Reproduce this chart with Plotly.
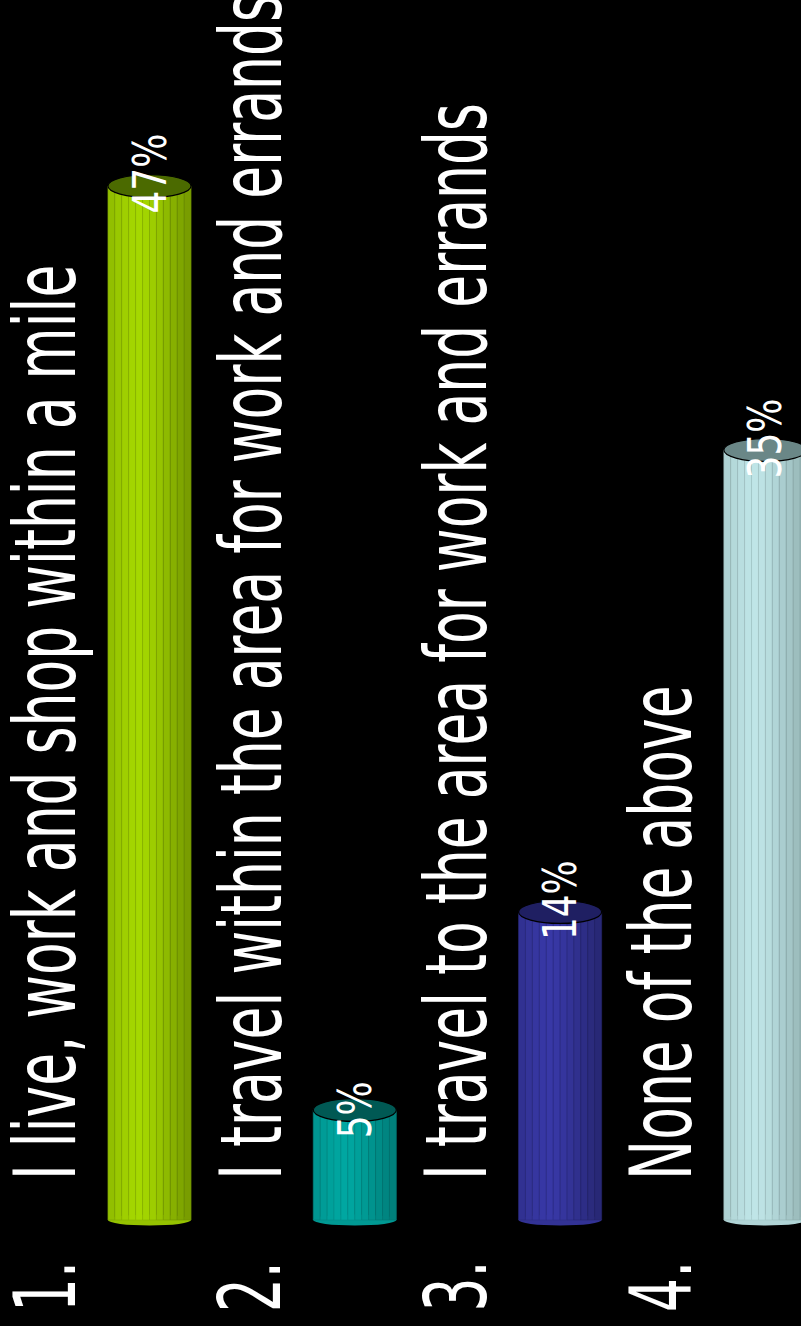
import plotly.graph_objects as go

# Survey answers and shares (percent)
numbers = ["1.", "2.", "3.", "4."]
answers = [
    "I live, work and shop within a mile",
    "I travel within the area for work and errands",
    "I travel to the area for work and errands",
    "None of the above",
]
shares = [47, 5, 14, 35]

# Cylinder palette: lit side, shaded side, lid
lit_colors = ["#a5d800", "#00a7a1", "#3838a6", "#bfe5e7"]
dark_colors = ["#6f9000", "#007773", "#25256c", "#8eadad"]
lid_colors = ["#4b6a00", "#005954", "#1f1f62", "#6a8787"]

W, H = 801, 1326
PX_PER_CAT = 205.3
X_FIRST = 149.5          # pixel centre of first cylinder
Y_ZERO = 1220            # pixel row of 0 %
PX_PER_PCT = 22.0

x_lo = -X_FIRST / PX_PER_CAT
x_hi = x_lo + W / PX_PER_CAT
y_lo = -(H - Y_ZERO) / PX_PER_PCT
y_hi = Y_ZERO / PX_PER_PCT

BAR_W = 0.405
# shading profile across the cylinder (0 = lit, 1 = shaded)
profile = [0.35, 0.22, 0.12, 0.04, 0.0, 0.05, 0.15, 0.28, 0.42, 0.56, 0.7, 0.82]
n_strips = len(profile)


def hex_to_rgb(h):
    h = h.lstrip("#")
    return tuple(int(h[i:i + 2], 16) for i in (0, 2, 4))


def mix(c1, c2, t):
    a, b = hex_to_rgb(c1), hex_to_rgb(c2)
    return "rgb(%d,%d,%d)" % tuple(round(a[k] + (b[k] - a[k]) * t) for k in range(3))


xs = list(range(len(shares)))
fig = go.Figure()

strip_w = BAR_W / n_strips
for s, t in enumerate(profile):
    fig.add_trace(go.Bar(
        x=xs,
        y=shares,
        width=strip_w,
        offset=-BAR_W / 2 + s * strip_w,
        marker=dict(
            color=[mix(lit_colors[i], dark_colors[i], t) for i in xs],
            line=dict(color=[mix(lit_colors[i], dark_colors[i], min(1, t + 0.45)) for i in xs],
                      width=0.6),
        ),
        hoverinfo="skip",
        showlegend=False,
    ))

# rounded bottoms and lids of the cylinders
for i, v in enumerate(shares):
    fig.add_shape(type="circle", xref="x", yref="y", layer="below",
                  x0=i - BAR_W / 2, x1=i + BAR_W / 2, y0=-0.25, y1=0.25,
                  fillcolor=mix(lit_colors[i], dark_colors[i], 0.3), line=dict(width=0))
    fig.add_shape(type="circle", xref="x", yref="y",
                  x0=i - BAR_W / 2, x1=i + BAR_W / 2, y0=v - 0.52, y1=v + 0.52,
                  fillcolor=lid_colors[i], line=dict(color="black", width=1.2))

FAMILY = "DejaVu Sans, sans-serif"
label_font = dict(family=FAMILY, size=85, color="white")
value_font = dict(family=FAMILY, size=46, color="white")

for i in xs:
    fig.add_annotation(x=i, xref="x", y=1 - 1314 / H, yref="paper",
                       text=numbers[i], textangle=-90, showarrow=False,
                       xanchor="center", yanchor="bottom", xshift=-104,
                       font=label_font)
    fig.add_annotation(x=i, xref="x", y=1 - 1182 / H, yref="paper",
                       text=answers[i], textangle=-90, showarrow=False,
                       xanchor="center", yanchor="bottom", xshift=-104,
                       font=label_font)
    fig.add_annotation(x=i, xref="x", y=shares[i], yref="y",
                       text=f"{shares[i]}%", textangle=-90, showarrow=False,
                       xanchor="center", yanchor="bottom", yshift=-30,
                       font=value_font)

fig.update_layout(
    width=W, height=H,
    margin=dict(l=0, r=0, t=0, b=0),
    paper_bgcolor="black", plot_bgcolor="black",
    barmode="overlay",
    xaxis=dict(range=[x_lo, x_hi], visible=False, fixedrange=True),
    yaxis=dict(range=[y_lo, y_hi], visible=False, fixedrange=True),
    showlegend=False,
)

# Narrow the lettering (condensed face) while keeping each text's start in place.
condense_js = """
var gd = document.querySelector('.plotly-graph-div');
function condense() {
  gd.querySelectorAll('text.annotation-text').forEach(function (t) {
    if (t.getAttribute('data-condensed')) return;
    var fs = parseFloat(t.style.fontSize) || 0;
    var k = fs > 60 ? 0.63 : 0.78;
    var n = t.getComputedTextLength();
    var d = n * (1 - k) / 2;
    t.setAttribute('textLength', n * k);
    t.setAttribute('lengthAdjust', 'spacingAndGlyphs');
    [t].concat(Array.prototype.slice.call(t.querySelectorAll('tspan.line'))).forEach(function (el) {
      var x = el.getAttribute('x');
      if (x !== null) el.setAttribute('x', parseFloat(x) - d);
    });
    t.setAttribute('data-condensed', '1');
  });
}
condense();
"""

fig.write_html("out.html", post_script=condense_js)
